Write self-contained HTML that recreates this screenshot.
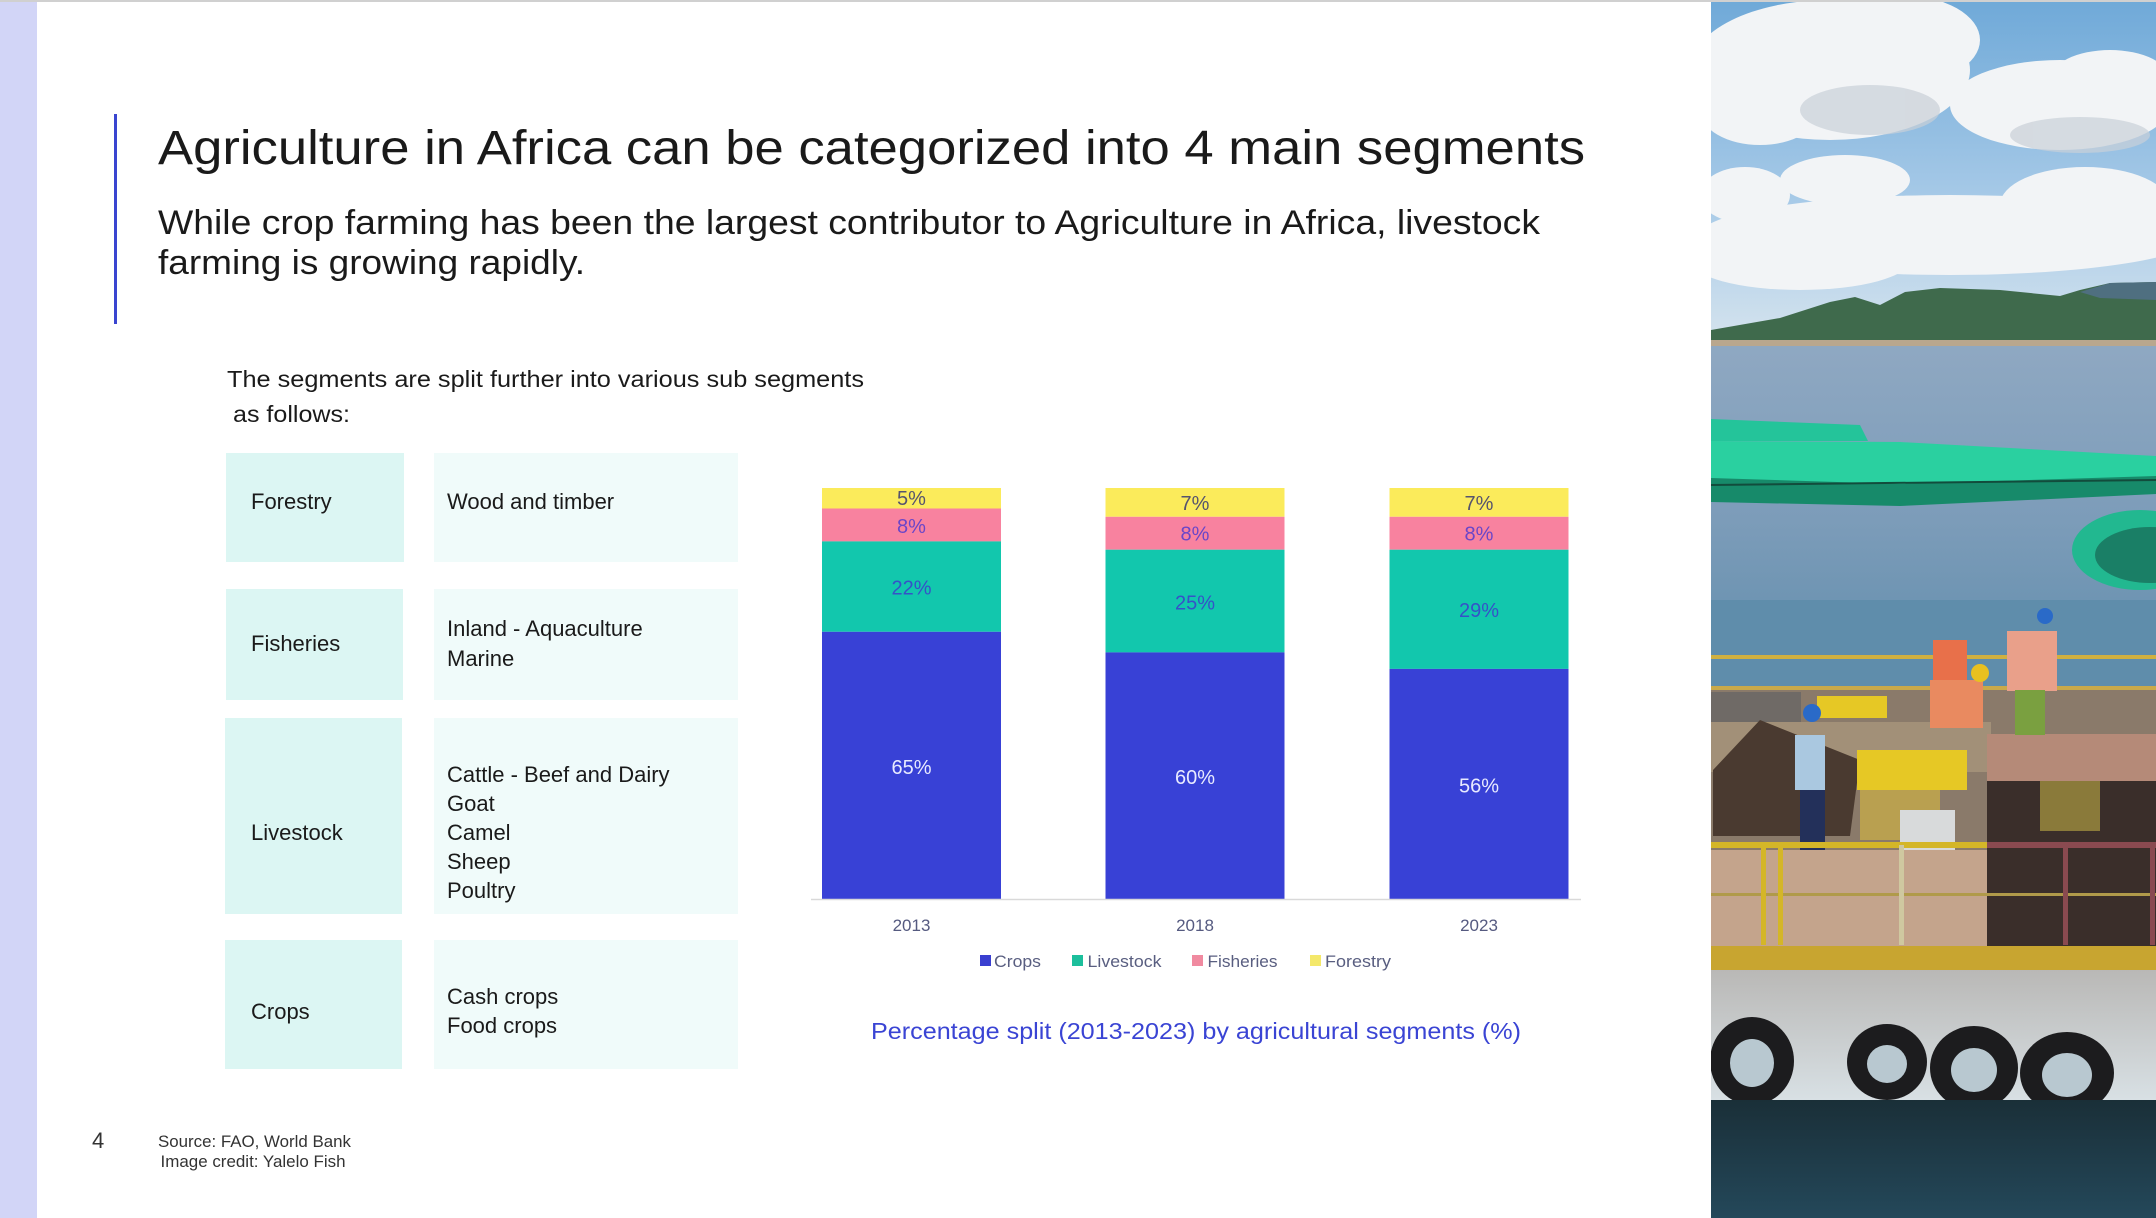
<!DOCTYPE html>
<html><head><meta charset="utf-8"><style>
html,body{margin:0;padding:0;background:#fff;}
svg{display:block;}
text{font-family:"Liberation Sans",sans-serif;}
</style></head><body>
<svg width="2156" height="1218" viewBox="0 0 2156 1218" xmlns="http://www.w3.org/2000/svg">
<defs>
<linearGradient id="sky" x1="0" y1="0" x2="0" y2="1"><stop offset="0" stop-color="#6fa9d8"/><stop offset="0.6" stop-color="#a9cbe8"/><stop offset="1" stop-color="#d6e4ee"/></linearGradient>
<linearGradient id="water" x1="0" y1="0" x2="0" y2="1"><stop offset="0" stop-color="#8fa8c2"/><stop offset="0.5" stop-color="#7c9cb9"/><stop offset="1" stop-color="#5f8cab"/></linearGradient>
<linearGradient id="dark" x1="0" y1="0" x2="0" y2="1"><stop offset="0" stop-color="#1a2f38"/><stop offset="1" stop-color="#24485a"/></linearGradient>
<linearGradient id="hull" x1="0" y1="0" x2="0" y2="1"><stop offset="0" stop-color="#b9b8b6"/><stop offset="1" stop-color="#d8e0e4"/></linearGradient>
</defs>
<rect x="0" y="0" width="2156" height="1218" fill="#fff"/>
<rect x="0" y="0" width="37" height="1218" fill="#d2d5f7"/>
<rect x="0" y="0" width="2156" height="2" fill="#d0d0d0"/>

<!-- header -->
<rect x="114" y="114" width="3" height="210" fill="#3a45d0"/>
<text x="158" y="164" font-size="48" fill="#1a1a1a" textLength="1427" lengthAdjust="spacingAndGlyphs">Agriculture in Africa can be categorized into 4 main segments</text>
<text x="158" y="234" font-size="34" fill="#1a1a1a" textLength="1382" lengthAdjust="spacingAndGlyphs">While crop farming has been the largest contributor to Agriculture in Africa, livestock</text>
<text x="158" y="274" font-size="34" fill="#1a1a1a" textLength="427" lengthAdjust="spacingAndGlyphs">farming is growing rapidly.</text>

<text x="227" y="387" font-size="23" fill="#1a1a1a" textLength="637" lengthAdjust="spacingAndGlyphs">The segments are split further into various sub segments</text>
<text x="233" y="422" font-size="23" fill="#1a1a1a" textLength="117" lengthAdjust="spacingAndGlyphs">as follows:</text>

<!-- table -->
<g fill="#dcf6f3">
<rect x="226" y="453" width="178" height="109"/>
<rect x="226" y="589" width="177" height="111"/>
<rect x="225" y="718" width="177" height="196"/>
<rect x="225" y="940" width="177" height="129"/>
</g>
<g fill="#f0fbfa">
<rect x="434" y="453" width="304" height="109"/>
<rect x="434" y="589" width="304" height="111"/>
<rect x="434" y="718" width="304" height="196"/>
<rect x="434" y="940" width="304" height="129"/>
</g>
<g font-size="22" fill="#1a1a1a">
<text x="251" y="509">Forestry</text>
<text x="447" y="509">Wood and timber</text>
<text x="251" y="651">Fisheries</text>
<text x="447" y="636">Inland - Aquaculture</text>
<text x="447" y="666">Marine</text>
<text x="251" y="840">Livestock</text>
<text x="447" y="782">Cattle - Beef and Dairy</text>
<text x="447" y="811">Goat</text>
<text x="447" y="840">Camel</text>
<text x="447" y="869">Sheep</text>
<text x="447" y="898">Poultry</text>
<text x="251" y="1019">Crops</text>
<text x="447" y="1004">Cash crops</text>
<text x="447" y="1033">Food crops</text>
</g>

<!-- chart -->
<g>
<rect x="822" y="488" width="179" height="20.5" fill="#fbeb5b"/>
<rect x="822" y="508.5" width="179" height="32.9" fill="#f8829f"/>
<rect x="822" y="541.4" width="179" height="90.4" fill="#12c7ad"/>
<rect x="822" y="631.8" width="179" height="267.2" fill="#3841d6"/>

<rect x="1105.5" y="488" width="179" height="28.8" fill="#fbeb5b"/>
<rect x="1105.5" y="516.8" width="179" height="32.9" fill="#f8829f"/>
<rect x="1105.5" y="549.7" width="179" height="102.7" fill="#12c7ad"/>
<rect x="1105.5" y="652.4" width="179" height="246.6" fill="#3841d6"/>

<rect x="1389.5" y="488" width="179" height="28.8" fill="#fbeb5b"/>
<rect x="1389.5" y="516.8" width="179" height="32.9" fill="#f8829f"/>
<rect x="1389.5" y="549.7" width="179" height="119.2" fill="#12c7ad"/>
<rect x="1389.5" y="668.9" width="179" height="230.1" fill="#3841d6"/>
</g>
<line x1="811" y1="899.5" x2="1581" y2="899.5" stroke="#d9d9d9" stroke-width="1.5"/>
<g font-size="20" text-anchor="middle">
<text x="911.5" y="505" fill="#55536e">5%</text>
<text x="911.5" y="533" fill="#6b46c8">8%</text>
<text x="911.5" y="594.6" fill="#3552c8">22%</text>
<text x="911.5" y="774" fill="#e8eaff">65%</text>
<text x="1195" y="510" fill="#55536e">7%</text>
<text x="1195" y="540.6" fill="#6b46c8">8%</text>
<text x="1195" y="609.5" fill="#3552c8">25%</text>
<text x="1195" y="784" fill="#e8eaff">60%</text>
<text x="1479" y="510" fill="#55536e">7%</text>
<text x="1479" y="540.6" fill="#6b46c8">8%</text>
<text x="1479" y="617" fill="#3552c8">29%</text>
<text x="1479" y="792.6" fill="#e8eaff">56%</text>
</g>
<g font-size="17" text-anchor="middle" fill="#555a80">
<text x="911.5" y="931">2013</text>
<text x="1195" y="931">2018</text>
<text x="1479" y="931">2023</text>
</g>
<g font-size="17" fill="#595e80">
<rect x="980" y="955" width="11" height="11" fill="#3a3fd0"/>
<text x="994" y="967" textLength="47" lengthAdjust="spacingAndGlyphs">Crops</text>
<rect x="1072" y="955" width="11" height="11" fill="#1cbf9c"/>
<text x="1087.5" y="967" textLength="74" lengthAdjust="spacingAndGlyphs">Livestock</text>
<rect x="1192" y="955" width="11" height="11" fill="#f08aa0"/>
<text x="1207.5" y="967" textLength="70" lengthAdjust="spacingAndGlyphs">Fisheries</text>
<rect x="1310" y="955" width="11" height="11" fill="#f4e86a"/>
<text x="1325" y="967" textLength="66" lengthAdjust="spacingAndGlyphs">Forestry</text>
</g>
<text x="871" y="1039" font-size="23" fill="#3a44d4" textLength="650" lengthAdjust="spacingAndGlyphs">Percentage split (2013-2023) by agricultural segments (%)</text>

<!-- footer -->
<text x="92" y="1148" font-size="22" fill="#333">4</text>
<text x="158" y="1147" font-size="17" fill="#333" textLength="193" lengthAdjust="spacingAndGlyphs">Source: FAO, World Bank</text>
<text x="160.5" y="1167" font-size="17" fill="#333" textLength="185" lengthAdjust="spacingAndGlyphs">Image credit: Yalelo Fish</text>

<!-- photo -->
<svg x="1711" y="2" width="445" height="1216" viewBox="1711 2 445 1216" overflow="hidden">
<rect x="1711" y="0" width="445" height="346" fill="url(#sky)"/>
<!-- clouds -->
<g fill="#f2f4f6">
<ellipse cx="1830" cy="70" rx="140" ry="70"/>
<ellipse cx="1900" cy="40" rx="80" ry="45"/>
<ellipse cx="1760" cy="110" rx="60" ry="35"/>
<ellipse cx="2060" cy="105" rx="110" ry="45"/>
<ellipse cx="2110" cy="80" rx="60" ry="30"/>
<ellipse cx="1745" cy="195" rx="45" ry="28"/>
<ellipse cx="1845" cy="180" rx="65" ry="25"/>
<ellipse cx="2085" cy="205" rx="85" ry="38"/>
<ellipse cx="1950" cy="235" rx="250" ry="40"/>
<ellipse cx="1800" cy="260" rx="110" ry="30"/>
</g>
<g fill="#c9d0d8" opacity="0.7">
<ellipse cx="1870" cy="110" rx="70" ry="25"/>
<ellipse cx="2080" cy="135" rx="70" ry="18"/>
</g>
<!-- hills -->
<path d="M1711 330 L1780 318 L1830 302 L1855 297 L1880 305 L1905 292 L1940 288 L2000 290 L2060 296 L2080 290 L2110 283 L2156 282 L2156 346 L1711 346 Z" fill="#3f6a4c"/>
<path d="M2080 292 L2110 283 L2156 282 L2156 300 L2100 298 Z" fill="#4f6f80"/>
<rect x="1711" y="340" width="445" height="6" fill="#b9a78e"/>
<!-- water -->
<rect x="1711" y="346" width="445" height="350" fill="url(#water)"/>
<!-- cages -->
<path d="M1711 419 L1860 425 L1868 441 L1711 441 Z" fill="#24c49a"/>
<path d="M1711 441 L1900 442 L2156 456 L2156 494 L1900 502 L1711 500 Z" fill="#2ad0a0"/>
<path d="M1711 478 L1900 484 L2156 476 L2156 494 L1900 506 L1711 502 Z" fill="#178a6a"/>
<g stroke="#124c3c" stroke-width="2"><line x1="1711" y1="485" x2="2156" y2="480"/></g>
<ellipse cx="2140" cy="550" rx="68" ry="40" fill="#22b890"/>
<ellipse cx="2150" cy="555" rx="55" ry="28" fill="#1a7f66"/>
<!-- deck/water top -->
<rect x="1711" y="600" width="445" height="90" fill="#5f8dab"/>
<rect x="1711" y="655" width="445" height="4" fill="#d0b040"/>
<rect x="1711" y="686" width="445" height="4" fill="#c9a94a"/>
<!-- deck equipment -->
<rect x="1711" y="690" width="445" height="160" fill="#8a7a6a"/>
<rect x="1711" y="692" width="90" height="30" fill="#6f6a66"/>
<rect x="1817" y="696" width="70" height="22" fill="#e6c825"/>
<rect x="1711" y="722" width="280" height="50" fill="#a29078"/>
<path d="M1713 770 L1760 720 L1860 760 L1850 836 L1713 836 Z" fill="#4a3a30"/>
<rect x="1857" y="750" width="110" height="40" fill="#e6c825"/>
<rect x="1860" y="790" width="80" height="50" fill="#b9a050"/>
<rect x="1900" y="810" width="55" height="50" fill="#d8dadb"/>
<rect x="1987" y="734" width="169" height="47" fill="#b58a78"/>
<rect x="1987" y="781" width="169" height="165" fill="#3a2e2a"/>
<rect x="2040" y="781" width="60" height="50" fill="#8a7a3a"/>
<!-- workers -->
<rect x="1933" y="640" width="34" height="50" fill="#e8704a"/>
<rect x="1930" y="680" width="53" height="48" fill="#e98a60"/>
<circle cx="1980" cy="673" r="9" fill="#e8c020"/>
<rect x="2007" y="631" width="50" height="60" fill="#e9a08a"/>
<circle cx="2045" cy="616" r="8" fill="#2a6ac8"/>
<rect x="2015" y="690" width="30" height="45" fill="#7aa040"/>
<rect x="1795" y="735" width="30" height="55" fill="#aac8e0"/>
<circle cx="1812" cy="713" r="9" fill="#2a6ac8"/>
<rect x="1800" y="790" width="25" height="60" fill="#23305a"/>
<!-- rails & deck floor -->
<rect x="1711" y="850" width="276" height="96" fill="#c4a48c"/>
<rect x="1711" y="842" width="276" height="6" fill="#d4b628"/>
<rect x="1987" y="842" width="169" height="6" fill="#8a4a50"/>
<rect x="1711" y="893" width="445" height="3" fill="#b09a4a"/>
<rect x="1761" y="845" width="5" height="100" fill="#d4b628"/>
<rect x="1778" y="845" width="5" height="100" fill="#d4b628"/>
<rect x="1899" y="845" width="5" height="100" fill="#cfc8a0"/>
<rect x="2063" y="845" width="5" height="100" fill="#8a4a50"/>
<rect x="2150" y="845" width="5" height="100" fill="#8a4a50"/>
<rect x="1711" y="946" width="445" height="24" fill="#c8a530"/>
<!-- hull -->
<rect x="1711" y="970" width="445" height="130" fill="url(#hull)"/>
<g fill="#1c1c1e">
<ellipse cx="1752" cy="1061" rx="42" ry="44"/>
<ellipse cx="1887" cy="1062" rx="40" ry="38"/>
<ellipse cx="1974" cy="1068" rx="44" ry="42"/>
<ellipse cx="2067" cy="1073" rx="47" ry="41"/>
</g>
<g fill="#b8c8d0">
<ellipse cx="1752" cy="1063" rx="22" ry="24"/>
<ellipse cx="1887" cy="1064" rx="20" ry="19"/>
<ellipse cx="1974" cy="1070" rx="23" ry="22"/>
<ellipse cx="2067" cy="1075" rx="25" ry="22"/>
</g>
<rect x="1711" y="1100" width="445" height="118" fill="url(#dark)"/>
</svg>
</svg>
</body></html>
